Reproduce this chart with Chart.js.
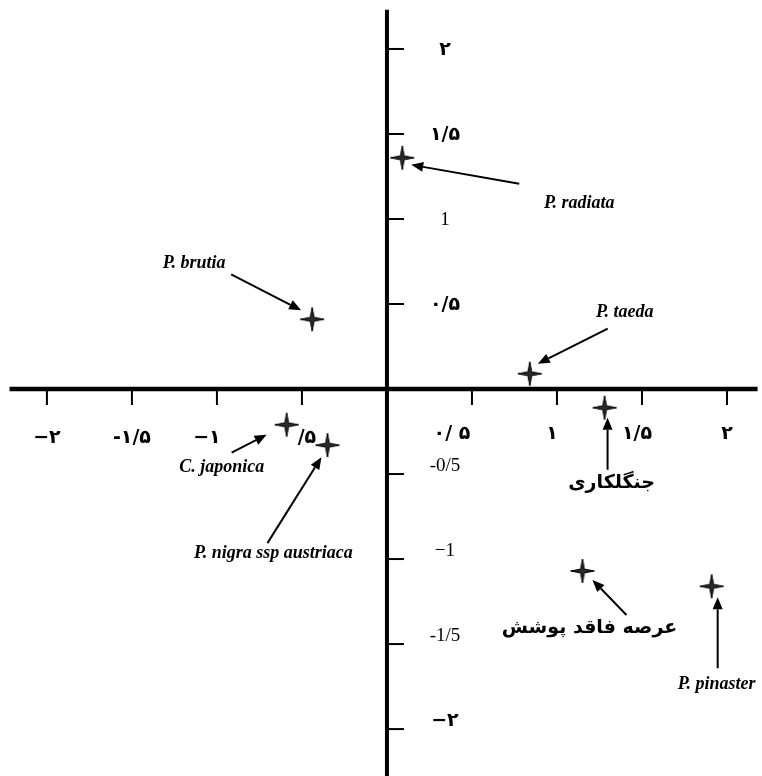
<!DOCTYPE html>
<html>
<head>
<meta charset="utf-8">
<script src="https://cdn.jsdelivr.net/npm/chart.js@4.4.0/dist/chart.umd.min.js"></script>
<style>
  html, body { margin: 0; padding: 0; background: #fff; }
  #wrap { width: 762px; height: 776px; }
</style>
</head>
<body>
<div id="wrap"><canvas id="myChart" width="762" height="776"></canvas></div>
<script>
// species / site names and their ordination scores
const names = ['P. radiata', 'P. brutia', 'P. taeda', 'C. japonica', 'P. nigra ssp austriaca', 'جنگلکاری', 'عرصه فاقد پوشش', 'P. pinaster']
const xValues = [0.09, -0.44, 0.84, -0.59, -0.35, 1.28, 1.15, 1.91]
const yValues = [1.36, 0.41, 0.09, -0.21, -0.33, -0.11, -1.07, -1.16]

// tick values and labels as printed
const xTickValues = [-2, -1.5, -1, -0.5, 0.5, 1, 1.5, 2]
const xTickLabels = ['−۲', '-۱/۵', '−۱', '/۵', '۰/ ۵', '۱', '۱/۵', '۲']
const yTickValues = [2, 1.5, 1, 0.5, -0.5, -1, -1.5, -2]
const yTickLabels = ['۲', '۱/۵', '1', '۰/۵', '-0/5', '−1', '-1/5', '−۲']

// label placement (pixel offsets from each point): label centre, arrow tail, arrow tip
const annotLayout = [
    { label: [177, 46], tail: [117, 26], tip: [9, 7] },
    { label: [-118, -56], tail: [-81, -45], tip: [-11, -9] },
    { label: [95, -61], tail: [78, -45], tip: [8, -10] },
    { label: [-65, 43], tail: [-55, 28], tip: [-20, 10] },
    { label: [-54, 108], tail: [-60, 98], tip: [-6, 12] },
    { label: [7, 75], tail: [3, 62], tip: [3, 10] },
    { label: [7, 57], tail: [44, 44], tip: [10, 9] },
    { label: [5, 98], tail: [6, 82], tip: [6, 11] }
]

function isPersian(s) {
    return /[\u0600-\u06FF]/.test(s)
}

// four pointed star marker
function makeStar() {
    let c = document.createElement('canvas')
    c.width = 26
    c.height = 26
    let g = c.getContext('2d')
    let cx = 13, cy = 13, R = 12, r = 2.7
    g.beginPath()
    for (let i = 0; i < 8; i++) {
        let ang = -Math.PI / 2 + i * Math.PI / 4
        let rad = i % 2 === 0 ? R : r
        let px = cx + rad * Math.cos(ang)
        let py = cy + rad * Math.sin(ang)
        if (i === 0) g.moveTo(px, py)
        else g.lineTo(px, py)
    }
    g.closePath()
    g.fillStyle = '#2a2a2a'
    g.fill()
    g.lineWidth = 1
    g.strokeStyle = '#000'
    g.stroke()
    return c
}

function drawArrow(ctx, x1, y1, x2, y2) {
    let ang = Math.atan2(y2 - y1, x2 - x1)
    let headLen = 12, headW = 5
    let bx = x2 - headLen * Math.cos(ang)
    let by = y2 - headLen * Math.sin(ang)
    ctx.beginPath()
    ctx.moveTo(x1, y1)
    ctx.lineTo(bx, by)
    ctx.lineWidth = 2
    ctx.strokeStyle = '#000'
    ctx.stroke()
    ctx.beginPath()
    ctx.moveTo(x2, y2)
    ctx.lineTo(bx + headW * Math.sin(ang), by - headW * Math.cos(ang))
    ctx.lineTo(bx - headW * Math.sin(ang), by + headW * Math.cos(ang))
    ctx.closePath()
    ctx.fillStyle = '#000'
    ctx.fill()
}

const axesPlugin = {
    id: 'crossAxes',
    beforeDatasetsDraw(chart) {
        const ctx = chart.ctx
        const xs = chart.scales.x
        const ys = chart.scales.y
        const ox = xs.getPixelForValue(0)
        const oy = ys.getPixelForValue(0)
        ctx.save()
        ctx.strokeStyle = '#000'

        // main axes
        ctx.lineWidth = 4.5
        ctx.beginPath()
        ctx.moveTo(xs.getPixelForValue(-2.22), oy)
        ctx.lineTo(xs.getPixelForValue(2.18), oy)
        ctx.stroke()
        ctx.lineWidth = 4
        ctx.beginPath()
        ctx.moveTo(ox, ys.getPixelForValue(2.23))
        ctx.lineTo(ox, ys.getPixelForValue(-2.3))
        ctx.stroke()

        // tick marks
        ctx.lineWidth = 2
        xTickValues.forEach(v => {
            let px = xs.getPixelForValue(v)
            ctx.beginPath()
            ctx.moveTo(px, oy)
            ctx.lineTo(px, oy + 16)
            ctx.stroke()
        })
        yTickValues.forEach(v => {
            let py = ys.getPixelForValue(v)
            ctx.beginPath()
            ctx.moveTo(ox, py)
            ctx.lineTo(ox + 17, py)
            ctx.stroke()
        })

        // tick labels
        ctx.fillStyle = '#000'
        ctx.textAlign = 'center'
        ctx.textBaseline = 'middle'
        xTickValues.forEach((v, i) => {
            let px = xs.getPixelForValue(v)
            let shift = 0
            if (v === -1) shift = -10
            if (v === -0.5) shift = 5
            if (v === 0.5) shift = -20
            if (v === 1) shift = -5
            if (v === 1.5) shift = -5
            ctx.font = 'bold 19px "DejaVu Sans"'
            ctx.fillText(xTickLabels[i], px + shift, oy + (v < 0 ? 49 : 45))
        })
        yTickValues.forEach((v, i) => {
            let py = ys.getPixelForValue(v)
            let s = yTickLabels[i]
            if (isPersian(s)) ctx.font = 'bold 19px "DejaVu Sans"'
            else ctx.font = '19px "Liberation Serif"'
            ctx.fillText(s, ox + 58, py + (v > 0 ? 1 : -8))
        })
        ctx.restore()
    },
    afterDatasetsDraw(chart) {
        const ctx = chart.ctx
        const meta = chart.getDatasetMeta(0)
        ctx.save()
        ctx.fillStyle = '#000'
        ctx.textAlign = 'center'
        ctx.textBaseline = 'middle'
        names.forEach((name, i) => {
            let pt = meta.data[i]
            let lay = annotLayout[i]
            drawArrow(ctx, pt.x + lay.tail[0], pt.y + lay.tail[1], pt.x + lay.tip[0], pt.y + lay.tip[1])
            if (isPersian(name)) ctx.font = 'bold 19px "DejaVu Sans"'
            else ctx.font = 'italic bold 18px "Liberation Serif"'
            ctx.fillStyle = '#000'
            ctx.fillText(name, pt.x + lay.label[0], pt.y + lay.label[1])
        })
        ctx.restore()
    }
}

window.onload = () => {
    const star = makeStar()
    const points = xValues.map((x, i) => ({ x: x, y: yValues[i] }))
    const ctx = document.getElementById('myChart')
    new Chart(ctx, {
        type: 'scatter',
        data: {
            datasets: [{
                data: points,
                pointStyle: star,
                pointRadius: 12,
                backgroundColor: '#222',
                borderColor: '#000',
                clip: false
            }]
        },
        options: {
            responsive: false,
            animation: false,
            layout: { padding: 0, autoPadding: false },
            plugins: {
                legend: { display: false },
                tooltip: { enabled: false }
            },
            scales: {
                x: { type: 'linear', display: false, min: -2.276, max: 2.206 },
                y: { type: 'linear', display: false, min: -2.276, max: 2.288 }
            }
        },
        plugins: [axesPlugin]
    })
}
</script>
</body>
</html>
